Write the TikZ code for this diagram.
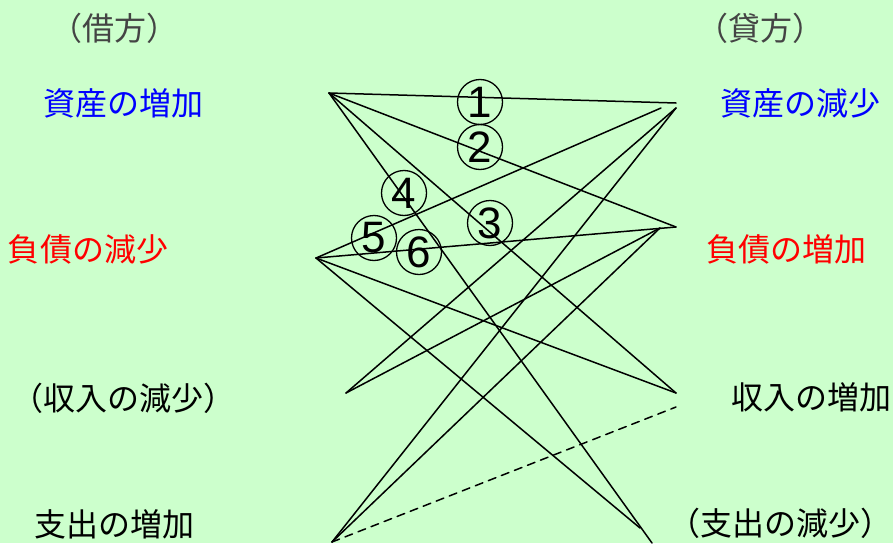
\documentclass[tikz,border=0pt]{standalone}
\usepackage{fontspec}
\setmainfont{Noto Sans CJK JP}
\newfontfamily\numfont{Liberation Sans}
\usetikzlibrary{positioning}
\definecolor{bgGreen}{HTML}{CCFFCC}
\definecolor{jrBlue}{HTML}{0000FF}
\definecolor{jrRed}{HTML}{FF0000}
\definecolor{jrGray}{HTML}{444444}

\begin{document}
\begin{tikzpicture}[
    x=1pt, y=-1pt,
    lbl/.style ={inner sep=0pt, font=\fontsize{32}{38}\selectfont},
    head/.style={lbl, text=jrGray},
    num/.style ={draw, circle, line width=1.3pt, minimum size=45pt, inner sep=0pt, font=\numfont\fontsize{44}{44}\selectfont},
    conn/.style={line width=1.5pt, line cap=round},
]
\path[use as bounding box, fill=bgGreen] (0,0) rectangle (893,543);

% ---- Column heads ----
\node[head] (debit)  at (114,28) {（借方）};
\node[head] (credit) at (760,28) {（貸方）};

% ---- Debit side ----
\node[lbl, text=jrBlue] (assetUp)  at (123,103) {資産の増加};
\node[lbl, text=jrRed]  (liabDown) at (88,249)  {負債の減少};
\node[lbl]              (revDown)  at (123,398) {（収入の減少）};
\node[lbl]              (expUp)    at (114,524) {支出の増加};

% ---- Credit side ----
\node[lbl, text=jrBlue] (assetDown) at (800,103) {資産の減少};
\node[lbl, text=jrRed]  (liabUp)    at (786,249) {負債の増加};
\node[lbl]              (revUp)     at (811,397) {収入の増加};
\node[lbl]              (expDown)   at (780,523) {（支出の減少）};

% ---- Line ends ----
\coordinate (dAsset) at (329,93);
\coordinate (dLiab)  at (316,258);
\coordinate (dRev)   at (346,393);
\coordinate (dExp)   at (332,542);
\coordinate (cAssetT) at (676,103);
\coordinate (cAsset)  at (676,108);
\coordinate (cAssetL) at (661,108);
\coordinate (cLiab)   at (676,227);
\coordinate (cLiabL)  at (660,228);
\coordinate (cRev)    at (676,393);
\coordinate (cRevD)   at (676,407);
\coordinate (cExp)    at (652,543);
\coordinate (cExpL)   at (640,528);

% ---- Connections ----
\draw[conn] (dAsset) -- (cAssetT);
\draw[conn] (dAsset) -- (cLiab);
\draw[conn] (dAsset) -- (cRev);
\draw[conn] (dAsset) -- (cExp);
\draw[conn] (dLiab) -- (cAssetL);
\draw[conn] (dLiab) -- (cLiab);
\draw[conn] (dLiab) -- (cRev);
\draw[conn] (dLiab) -- (cExpL);
\draw[conn] (dRev) -- (cAsset);
\draw[conn] (dRev) -- (cLiabL);
\draw[conn] (dExp) -- (cAsset);
\draw[conn] (dExp) -- (cLiabL);
\draw[conn, dash pattern=on 8pt off 6pt] (dExp) -- (cRevD);

% ---- Circled numbers ----
\node[num] (n1) at (480,102) {1};
\node[num] (n2) at (480,147) {2};
\node[num] (n3) at (490,223) {3};
\node[num] (n4) at (404,193) {4};
\node[num] (n5) at (374,238) {5};
\node[num] (n6) at (419,252) {6};

\end{tikzpicture}
\end{document}
